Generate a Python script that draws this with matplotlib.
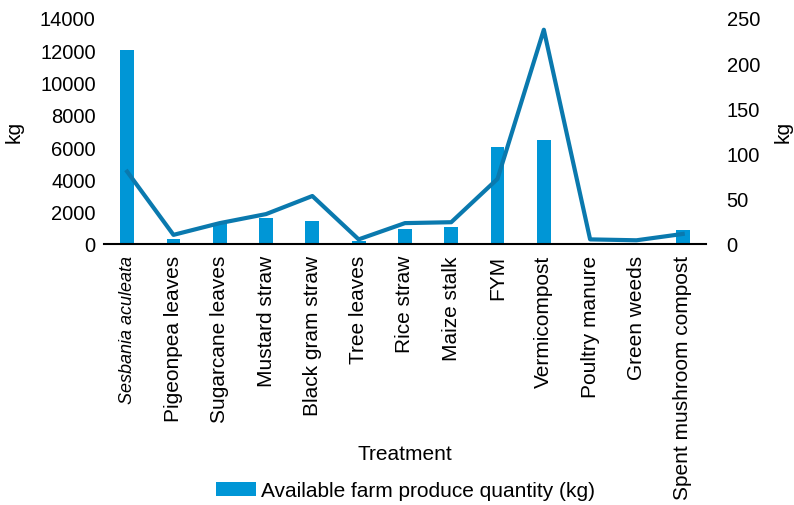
import numpy as np
import matplotlib
matplotlib.use("Agg")
import matplotlib.pyplot as plt

plt.rcParams['font.family'] = ['Liberation Sans', 'DejaVu Sans']

treatments = ["Sesbania aculeata", "Pigeonpea leaves", "Sugarcane leaves", "Mustard straw",
              "Black gram straw", "Tree leaves", "Rice straw", "Maize stalk", "FYM",
              "Vermicompost", "Poultry manure", "Green weeds", "Spent mushroom compost"]
# available farm produce quantity (kg), left axis
available_kg = [12000, 300, 1300, 1600, 1400, 180, 950, 1050, 6000, 6450, 50, 20, 870]
# line series on the right axis (kg)
line_kg = [80, 10, 23, 33, 53, 5, 23, 24, 72, 237, 5, 4, 11]

bar_color = "#0096d6"
line_color = "#0a79ae"

fig = plt.figure(figsize=(7.94, 5.06), dpi=100)
ax = fig.add_axes([0.131, 0.516, 0.758, 0.4465])
x = np.arange(len(treatments))

ax.bar(x, available_kg, width=0.3, color=bar_color, label="Available farm produce quantity (kg)")
ax.set_ylim(0, 14000)
ax.set_yticks(range(0, 14001, 2000))
ax.set_xlim(-0.5, len(treatments) - 0.5)
ax.set_xticks(x)
ax.set_xticklabels(treatments, rotation=90, fontsize=15, va="top")
first = ax.get_xticklabels()[0]
first.set_style("italic")
first.set_fontsize(13)
ax.tick_params(axis="y", length=0, labelsize=14.5, pad=6)
ax.tick_params(axis="x", length=0, pad=8)
ax.set_ylabel("kg", fontsize=15)
ax.yaxis.set_label_coords(-0.133, 0.5)

ax2 = ax.twinx()
ax2.plot(x, line_kg, color=line_color, linewidth=3)
ax2.set_ylim(0, 250)
ax2.set_yticks(range(0, 251, 50))
ax2.tick_params(axis="y", length=0, labelsize=14.5, pad=15)
ax2.set_ylabel("kg", fontsize=15)
ax2.yaxis.set_label_coords(1.113, 0.5)

for a in (ax, ax2):
    for side in ("top", "left", "right"):
        a.spines[side].set_visible(False)
ax.spines["bottom"].set_linewidth(1.5)
ax2.spines["bottom"].set_visible(False)

fig.text(0.51, 1 - 455 / 506, "Treatment", fontsize=15, ha="center", va="center")

fig.legend(loc="center", bbox_to_anchor=(0.511, 0.028), frameon=False,
           fontsize=15, handlelength=1.9, handleheight=0.72, handletextpad=0.25)

fig.savefig("out.png", dpi=100)
